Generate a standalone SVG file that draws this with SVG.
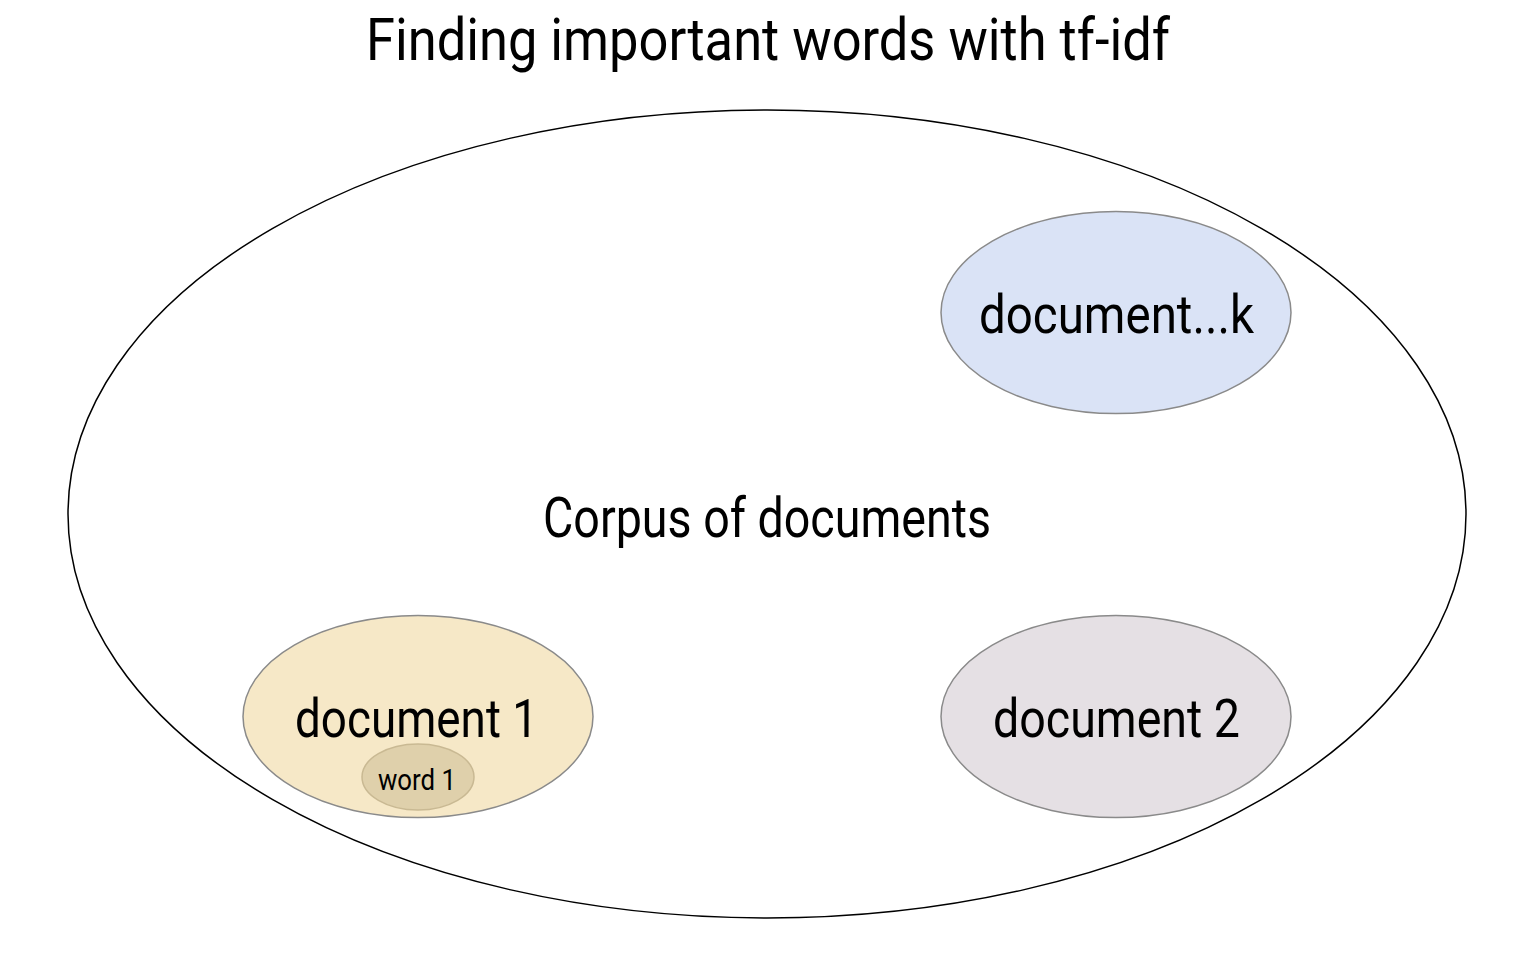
<svg xmlns="http://www.w3.org/2000/svg" width="1536" height="960" viewBox="0 0 1536 960">
<style>
text{font-family:Roboto,"Liberation Sans",sans-serif;fill:#000;text-anchor:middle}
.doc{stroke:#8a8a8a;stroke-width:1.5}
</style>
<rect width="1536" height="960" fill="#fff"/>
<text id="title" x="768" y="60" font-size="60" textLength="804" lengthAdjust="spacingAndGlyphs">Finding important words with tf-idf</text>
<g id="corpus">
<ellipse cx="767" cy="514" rx="699" ry="404" fill="none" stroke="#000" stroke-width="1.5"/>
<text x="767" y="537" font-size="56" textLength="448" lengthAdjust="spacingAndGlyphs">Corpus of documents</text>
</g>
<g id="dock">
<ellipse class="doc" cx="1116" cy="312.5" rx="175" ry="101" fill="#dae3f6"/>
<text x="1116.5" y="333" font-size="54" textLength="275" lengthAdjust="spacingAndGlyphs">document...k</text>
</g>
<g id="doc2">
<ellipse class="doc" cx="1116" cy="716.5" rx="175" ry="101" fill="#e5e0e4"/>
<text x="1116.5" y="737" font-size="54" textLength="247" lengthAdjust="spacingAndGlyphs">document 2</text>
</g>
<g id="doc1">
<ellipse class="doc" cx="418" cy="716.5" rx="175" ry="101" fill="#f6e8c7"/>
<text x="416.5" y="737" font-size="54" textLength="243" lengthAdjust="spacingAndGlyphs">document 1</text>
</g>
<g id="word1">
<ellipse cx="418" cy="777" rx="56" ry="33" fill="#dfd0ab" stroke="#c9b993" stroke-width="1.5"/>
<text x="417" y="790" font-size="29" textLength="78" lengthAdjust="spacingAndGlyphs">word 1</text>
</g>
<g id="connectors"/>
</svg>
